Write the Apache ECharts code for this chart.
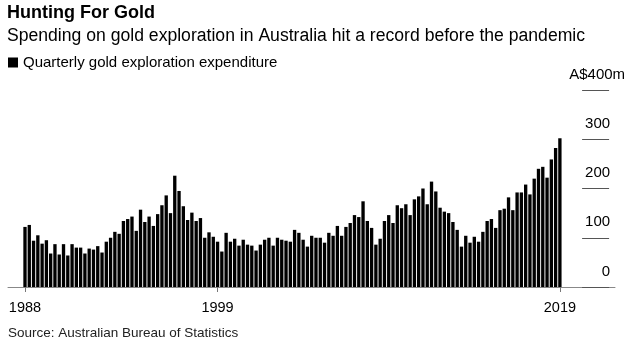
<!DOCTYPE html>
<html><head><meta charset="utf-8">
<script src="https://cdn.jsdelivr.net/npm/echarts@6/dist/echarts.min.js"></script>
<style>html,body{margin:0;padding:0;background:#fff}#c{width:638px;height:347px}</style>
</head><body><div id="c"></div>
<script>
const FONT = '"Liberation Sans", Arial, sans-serif';
const startYear = 1988;
const quarterCount = 126;
const quarters = [];
for (let i = 0; i < quarterCount; i++) {
  quarters.push((startYear + Math.floor(i / 4)) + ' Q' + (i % 4 + 1));
}
// Quarterly gold exploration expenditure, A$ million
const spending = [
  122,126,94,105,88,95,68,87,66,87,
  64,87,80,80,68,78,76,83,70,92,
  100,112,108,134,138,143,114,157,132,143,
  124,148,166,186,150,226,195,164,136,151,
  134,140,100,111,102,92,72,110,92,98,
  84,96,86,84,74,86,96,100,84,100,
  96,94,92,116,110,96,82,104,100,100,
  90,110,104,124,104,122,130,146,142,174,
  134,120,86,98,134,146,130,166,160,168,
  146,178,184,200,168,214,194,161,153,150,
  132,116,82,104,90,102,92,112,134,138,
  120,156,159,182,156,192,192,208,188,220,
  240,244,222,259,282,302
];
const seriesName = 'Quarterly gold exploration expenditure';
const yTicks = [0, 100, 200, 300, 400];
const labelIndexes = [0, 45, 125];

const chart = echarts.init(document.getElementById('c'));
const showIdx = (i) => labelIndexes.indexOf(i) >= 0;
chart.setOption({
  animation: false,
  backgroundColor: '#fff',
  textStyle: { fontFamily: FONT },
  title: [
    { text: 'Hunting For Gold', left: 7, top: 4, padding: 0,
      textStyle: { fontFamily: FONT, fontSize: 18, fontWeight: 'bold', color: '#000' } },
    { text: 'Spending on gold exploration in Australia hit a record before the pandemic', left: 7, top: 27, padding: 0,
      textStyle: { fontFamily: FONT, fontSize: 17.6, fontWeight: 'normal', color: '#000' } },
    { text: 'Source: Australian Bureau of Statistics', left: 8, top: 326, padding: 0,
      textStyle: { fontFamily: FONT, fontSize: 13.5, fontWeight: 'normal', color: '#222' } }
  ],
  legend: {
    left: 8, top: 55, padding: 0, icon: 'rect', itemWidth: 10, itemHeight: 10,
    textStyle: { fontFamily: FONT, fontSize: 15, color: '#000' },
    data: [seriesName]
  },
  grid: [
    { left: 22.86, right: 28.9, top: 90, bottom: 60 },
    { left: 8, right: 23, top: 90, bottom: 60 }
  ],
  xAxis: [
    { type: 'category', gridIndex: 0, data: quarters, max: 136, boundaryGap: true,
      axisLine: { show: false },
      axisTick: { show: true, alignWithLabel: true, interval: showIdx, length: 5, lineStyle: { color: '#777' } },
      axisLabel: { interval: showIdx, formatter: (v) => String(v).slice(0, 4), margin: 13,
        fontFamily: FONT, fontSize: 14.5, color: '#000' },
      splitLine: { show: false } },
    { type: 'value', gridIndex: 1, min: 0, max: 1,
      axisLine: { show: true, lineStyle: { color: '#888', width: 1 } },
      axisTick: { show: false }, axisLabel: { show: false }, splitLine: { show: false } }
  ],
  yAxis: [
    { type: 'value', gridIndex: 0, position: 'right', min: yTicks[0], max: yTicks[yTicks.length - 1], interval: 100,
      axisLine: { show: false },
      axisTick: { show: true, inside: true, length: 27, lineStyle: { color: '#555' } },
      splitLine: { show: false },
      axisLabel: { inside: true, margin: -16, verticalAlign: 'bottom', padding: [0, 0, 8, 0],
        fontFamily: FONT, fontSize: 15, color: '#000',
        formatter: (v) => v === 400 ? 'A$400m' : v + '{s|}',
        rich: { s: { width: 15 } } } },
    { type: 'value', gridIndex: 1, min: 0, max: 1, show: false }
  ],
  series: [{
    name: seriesName, type: 'bar', xAxisIndex: 0, yAxisIndex: 0,
    data: spending, barCategoryGap: '22%', itemStyle: { color: '#000' }
  }]
});
</script></body></html>
